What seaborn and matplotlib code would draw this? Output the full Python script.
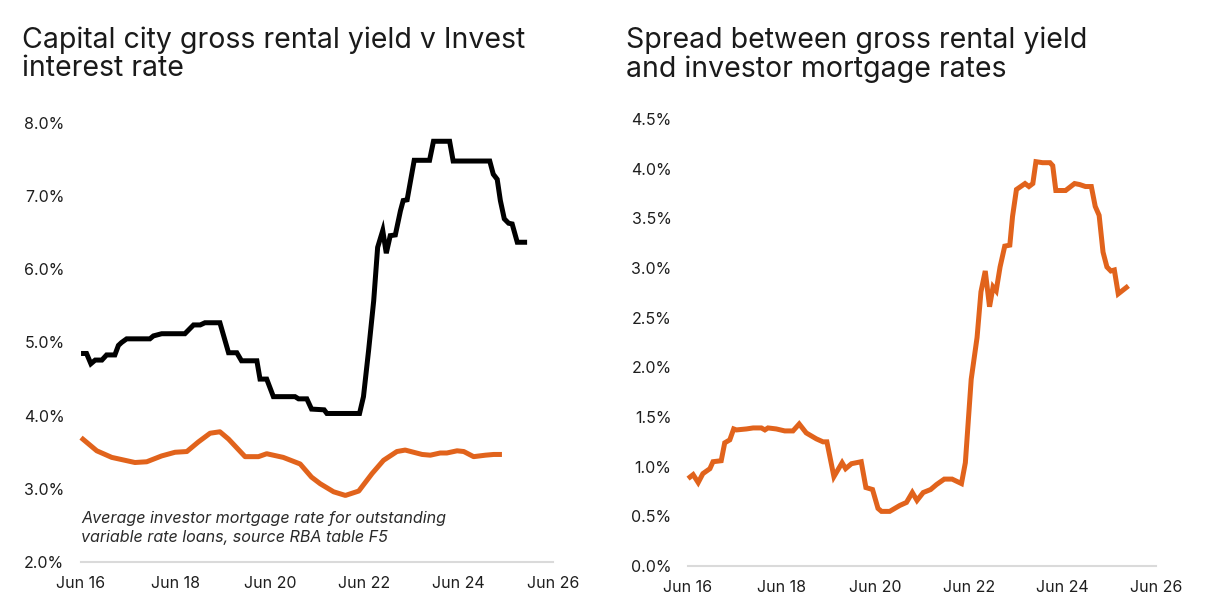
import matplotlib
matplotlib.use("Agg")
import matplotlib.pyplot as plt
import seaborn as sns
import pandas as pd

# ---- data (months since Jun 2016, values in %) ----
rate_month = [0, 1.4, 2.5, 3.6, 5.3, 6.5, 8.6, 9.5, 10.3, 11.6, 17.5, 18.4, 20.5, 26.4, 28.6,
              30.3, 31.5, 35.3, 37.5, 39.6, 40.8, 44.7, 45.5, 47.2, 48.9, 54.4, 55.3, 57.4, 58.6, 61.8,
              62.5, 70.8, 71.8, 73.1, 74.4, 75.4, 76.7, 77.6, 78.6, 79.9, 81.2, 81.9, 82.9, 84.7, 88.6,
              89.6, 93.7, 94.6, 103.9, 104.8, 105.8, 106.6, 107.6, 108.7, 109.6, 110.9, 113.4]
rate_value = [4.85, 4.85, 4.71, 4.76, 4.76, 4.83, 4.83, 4.96, 5.00, 5.05, 5.05, 5.09, 5.12, 5.12, 5.24,
              5.24, 5.27, 5.27, 4.86, 4.86, 4.75, 4.75, 4.50, 4.50, 4.26, 4.26, 4.23, 4.23, 4.09, 4.08,
              4.03, 4.03, 4.26, 4.89, 5.57, 6.30, 6.53, 6.22, 6.46, 6.47, 6.80, 6.94, 6.95, 7.49, 7.49,
              7.75, 7.75, 7.48, 7.48, 7.30, 7.23, 6.94, 6.69, 6.63, 6.62, 6.37, 6.37]

yield_month = [0, 4, 7.8, 13.7, 16.7, 20.5, 23.9, 26.9, 29.8, 32.8, 35.3, 37.5, 41.7, 45.1, 47.2,
               51.4, 55.7, 58.6, 60.8, 64.2, 67.2, 70.6, 74.0, 76.9, 80.3, 82.4, 86.7, 88.8, 91.3, 93,
               95.6, 97.3, 99.8, 102.8, 104.9, 107.0]
yield_value = [3.70, 3.52, 3.43, 3.36, 3.37, 3.45, 3.50, 3.51, 3.64, 3.76, 3.78, 3.68, 3.44, 3.44, 3.48,
               3.43, 3.34, 3.16, 3.07, 2.96, 2.91, 2.97, 3.21, 3.39, 3.51, 3.53, 3.47, 3.46, 3.49, 3.49,
               3.52, 3.51, 3.44, 3.46, 3.47, 3.47]

spread_month = [0, 1.3, 2.6, 3.8, 5.6, 6.4, 8.5, 9.4, 10.7, 11.7, 12.4, 15, 16.7, 18.8, 19.7,
                20.5, 22.6, 24.8, 26.9, 28.5, 30.3, 32.9, 34.6, 35.6, 37.4, 39.5, 40.4, 41.9, 44.4, 45.6,
                47.3, 48.7, 49.6, 51.7, 54.3, 56, 57.5, 58.7, 60.3, 62.2, 63.7, 65.7, 67.7, 70.1, 71.1,
                72.6, 74.1, 75.1, 76.2, 77.3, 78.2, 79.0, 80.0, 81.2, 82.5, 83.2, 84.2, 86.4, 87.4, 88.4,
                89.2, 90.9, 92.8, 93.5, 94.3, 96.8, 99.1, 100.4, 101.9, 103.4, 104.4, 105.4, 106.4, 107.4,
                108.4, 109.3, 110.3, 112.9]
spread_value = [0.88, 0.92, 0.84, 0.93, 0.98, 1.05, 1.06, 1.24, 1.27, 1.38, 1.37, 1.38, 1.39, 1.39, 1.37,
                1.39, 1.38, 1.36, 1.36, 1.43, 1.34, 1.28, 1.25, 1.25, 0.90, 1.04, 0.98, 1.03, 1.05, 0.79,
                0.77, 0.58, 0.55, 0.55, 0.61, 0.64, 0.74, 0.66, 0.74, 0.77, 0.82, 0.875, 0.875, 0.83, 1.04,
                1.88, 2.30, 2.76, 2.97, 2.61, 2.81, 2.77, 3.01, 3.22, 3.23, 3.52, 3.79, 3.85, 3.82, 3.85,
                4.07, 4.06, 4.06, 4.03, 3.78, 3.78, 3.85, 3.84, 3.82, 3.82, 3.62, 3.53, 3.16, 3.01,
                2.97, 2.98, 2.74, 2.82]

tick_months = [0, 24, 48, 72, 96, 120]
tick_labels = ["Jun 16", "Jun 18", "Jun 20", "Jun 22", "Jun 24", "Jun 26"]
left_yticks = [2, 3, 4, 5, 6, 7, 8]
right_yticks = [0, 0.5, 1, 1.5, 2, 2.5, 3, 3.5, 4, 4.5]

title_left = "Capital city gross rental yield v Invest\ninterest rate"
title_right = "Spread between gross rental yield\nand investor mortgage rates"
note = "Average investor mortgage rate for outstanding\nvariable rate loans, source RBA table F5"

ORANGE = "#E1631C"

sns.set_theme(style="white")
plt.rcParams['font.family'] = ['Inter', 'DejaVu Sans']

fig = plt.figure(figsize=(12.15, 6.07), dpi=100)
ax1 = fig.add_axes([0.0667, 0.0741, 0.3885, 0.7233])
ax2 = fig.add_axes([0.5663, 0.0675, 0.3852, 0.7365])

LW = 3.6
sns.lineplot(x=rate_month, y=rate_value, ax=ax1, color="black", linewidth=LW,
             sort=False, estimator=None, solid_capstyle="butt", solid_joinstyle="miter")
sns.lineplot(x=yield_month, y=yield_value, ax=ax1, color=ORANGE, linewidth=LW,
             sort=False, estimator=None, solid_capstyle="butt")
sns.lineplot(x=spread_month, y=spread_value, ax=ax2, color=ORANGE, linewidth=LW,
             sort=False, estimator=None, solid_capstyle="butt", solid_joinstyle="miter")

for ax, yt, ylim in [(ax1, left_yticks, (2, 8)), (ax2, right_yticks, (0, 4.5))]:
    ax.set_xlim(0, 120)
    ax.set_ylim(*ylim)
    ax.set_xticks(tick_months)
    ax.set_xticklabels(tick_labels)
    ax.set_yticks(yt)
    ax.set_yticklabels([f"{v:.1f}%" for v in yt])
    for s in ["top", "right", "left"]:
        ax.spines[s].set_visible(False)
    ax.spines["bottom"].set_color("#dadada")
    ax.spines["bottom"].set_linewidth(1.5)
    ax.tick_params(axis="x", direction="out", length=6, width=1.5, color="#dadada",
                   labelsize=11.5, labelcolor="#1e1e1e", pad=4)
    ax.tick_params(axis="y", length=0, labelsize=11.5, labelcolor="#1e1e1e", pad=12)
    ax.set_xlabel("")
    ax.set_ylabel("")
    ax.grid(False)
    for ln in ax.lines:
        ln.set_clip_on(False)

fig.text(22 / 1215, 1 - 27 / 607, title_left, ha="left", va="top", fontsize=20.5,
         color="#1a1a1a", linespacing=1.03)
fig.text(626 / 1215, 1 - 27 / 607, title_right, ha="left", va="top", fontsize=20.5,
         color="#1a1a1a", linespacing=1.03)
fig.text(81 / 1215, 1 - 511 / 607, note, ha="left", va="top", fontsize=11.6,
         style="italic", color="#2a2a2a", linespacing=1.3)

fig.savefig("out.png", dpi=100, facecolor="white")
